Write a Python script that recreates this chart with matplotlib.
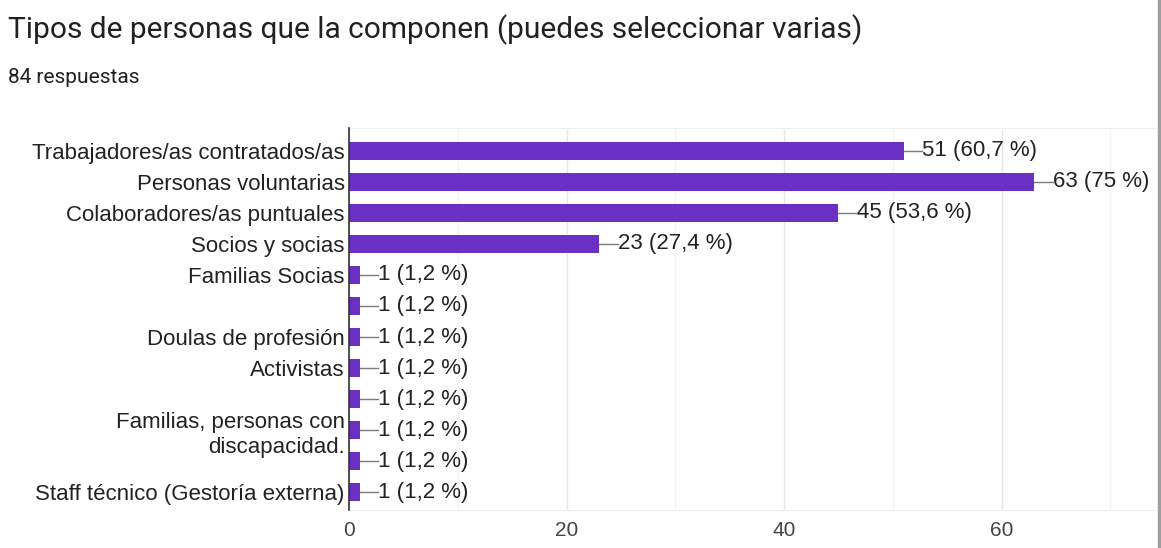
import matplotlib.pyplot as plt
from matplotlib.lines import Line2D
from matplotlib.ticker import MultipleLocator

plt.rcParams['font.family'] = ['Liberation Sans', 'DejaVu Sans']

# respuestas por tipo de persona (84 respuestas en total)
categorias = [
    'Trabajadores/as contratados/as',
    'Personas voluntarias',
    'Colaboradores/as puntuales',
    'Socios y socias',
    'Familias Socias',
    '',
    'Doulas de profesión',
    'Activistas',
    '',
    'Familias, personas con\ndiscapacidad.',
    '',
    'Staff técnico (Gestoría externa)',
]
valores = [51, 63, 45, 23, 1, 1, 1, 1, 1, 1, 1, 1]
porcentajes = ['60,7', '75', '53,6', '27,4', '1,2', '1,2', '1,2', '1,2', '1,2', '1,2', '1,2', '1,2']
ticks_x = [0, 20, 40, 60]

morado = '#6930c3'

fig = plt.figure(figsize=(11.61, 5.48), dpi=100)
ax = fig.add_axes([0.3006, 0.0693, 0.6942, 0.6971])

pos = list(range(len(categorias)))
ax.barh(pos, valores, height=0.58, color=morado, zorder=3)

for y, v, p in zip(pos, valores, porcentajes):
    ax.plot([v, v + 1.7], [y, y], color='#7a7a7a', lw=1.0, zorder=3)
    ax.text(v + 1.7, y, f'{v} ({p} %)', va='center', ha='left',
            fontsize=16, color='#222222', zorder=4)

ax.set_xlim(0, 74.1)
ax.set_ylim(11.58, -0.74)
ax.set_yticks(pos)
ax.set_yticklabels(categorias, fontsize=16, color='#222222', linespacing=1.25)
ax.set_xticks(ticks_x)
ax.set_xticklabels([str(t) for t in ticks_x], fontsize=15, color='#444444')
ax.xaxis.set_minor_locator(MultipleLocator(10))
ax.tick_params(axis='both', which='both', length=0, pad=3)
ax.tick_params(axis='x', pad=8)

ax.grid(axis='x', which='major', color='#e6e6e6', lw=1, zorder=0)
ax.grid(axis='x', which='minor', color='#f3f3f3', lw=1, zorder=0)

for lado in ('top', 'bottom'):
    ax.spines[lado].set_color('#eeeeee')
ax.spines['right'].set_visible(False)
ax.spines['left'].set_color('#333333')
ax.spines['left'].set_linewidth(1.2)
ax.spines['left'].set_zorder(5)

fig.text(0.007, 0.931, 'Tipos de personas que la componen (puedes seleccionar varias)',
         fontsize=21.5, color='#202124', va='baseline', family=['Roboto', 'DejaVu Sans'])
fig.text(0.007, 0.849, '84 respuestas', fontsize=15, color='#202124', va='baseline',
         family=['Roboto', 'DejaVu Sans'])

# borde gris del lado derecho de la tarjeta
fig.add_artist(Line2D([0.9983, 0.9983], [0, 1], transform=fig.transFigure,
                      color='#9e9e9e', lw=2.5))

fig.savefig('out.png', dpi=100, facecolor='white')
